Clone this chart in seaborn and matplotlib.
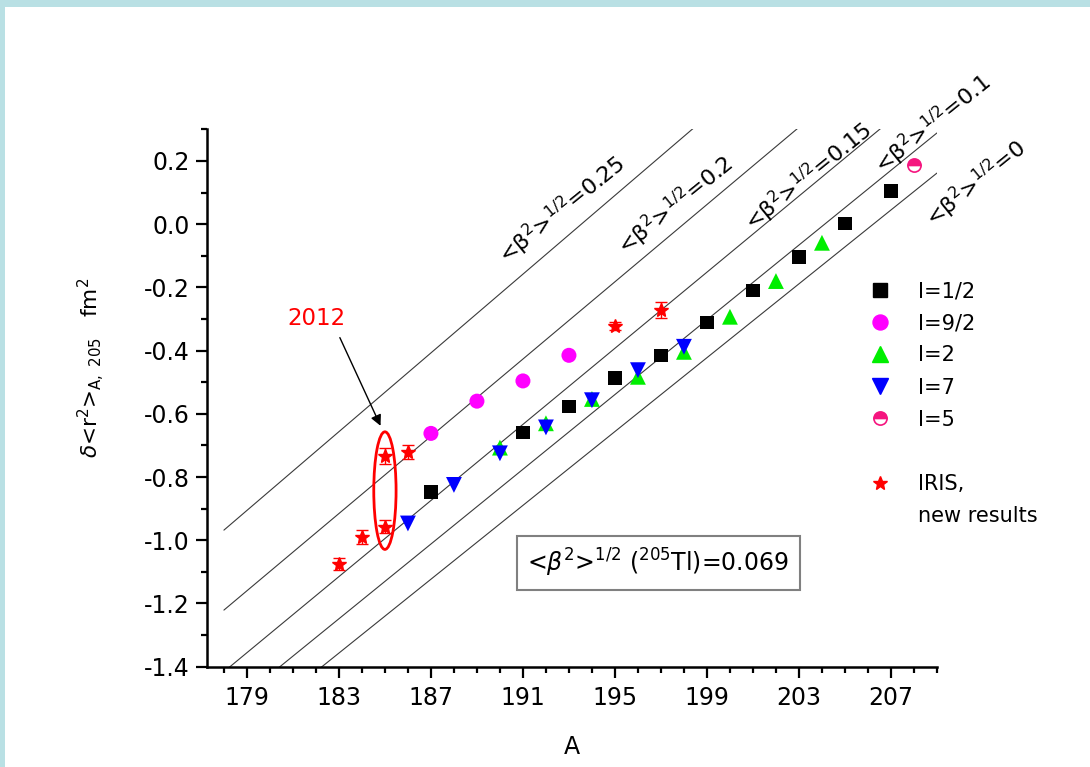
import numpy as np
import pandas as pd
import matplotlib
matplotlib.use('Agg')
import matplotlib.pyplot as plt
from matplotlib.lines import Line2D
from matplotlib.patches import Ellipse, Rectangle
from matplotlib.ticker import MultipleLocator, FixedLocator
import seaborn as sns

# ---------------- data ----------------
A_half = [187, 191, 193, 195, 197, 199, 201, 203, 205, 207]
d_half = [-0.847, -0.660, -0.576, -0.487, -0.415, -0.312, -0.209, -0.104, 0.002, 0.105]

A_92 = [187, 189, 191, 193]
d_92 = [-0.662, -0.560, -0.496, -0.415]

A_2 = [190, 192, 194, 196, 198, 200, 202, 204]
d_2 = [-0.707, -0.630, -0.553, -0.483, -0.404, -0.293, -0.180, -0.059]

A_7 = [186, 188, 190, 192, 194, 196, 198]
d_7 = [-0.947, -0.825, -0.725, -0.643, -0.557, -0.462, -0.388]

A_5 = [208]
d_5 = [0.186]

A_iris = [183, 184, 185, 185, 186, 195, 197]
d_iris = [-1.075, -0.989, -0.957, -0.734, -0.720, -0.323, -0.272]
e_iris = [0.018, 0.022, 0.020, 0.025, 0.022, 0.012, 0.025]

beta_labels = ['0.25', '0.2', '0.15', '0.1', '0']
line_A = [178, 209]
line_d_start = [-0.968, -1.221, -1.416, -1.544, -1.649]
line_d_end = [0.963, 0.673, 0.450, 0.2885, 0.1616]
label_A = [192.7, 197.6, 203.4, 208.8, 210.7]
label_d = [0.044, 0.060, 0.150, 0.316, 0.129]

x_ticks = [179, 183, 187, 191, 195, 199, 203, 207]
y_ticks = [-1.4, -1.2, -1.0, -0.8, -0.6, -0.4, -0.2, 0.0, 0.2]

# ---------------- style ----------------
sns.set_style('ticks')
plt.rcParams['font.family'] = ['DejaVu Sans']
plt.rcParams['mathtext.fontset'] = 'dejavusans'
plt.rcParams['mathtext.default'] = 'regular'
plt.rcParams['axes.unicode_minus'] = False
for k in ['text.color', 'axes.labelcolor', 'xtick.color', 'ytick.color']:
    plt.rcParams[k] = 'black'

fig = plt.figure(figsize=(10.9, 7.67), dpi=100)
fig.patch.set_facecolor('#b9e0e4')
fig.patches.append(Rectangle((5 / 1090, 0), 1 - 5 / 1090, 1 - 7 / 767,
                             transform=fig.transFigure, fc='white', ec='none', zorder=-5))
ax = fig.add_axes([0.1896, 0.1308, 0.6700, 0.7006])
ax.patch.set_alpha(0)

# constant-deformation lines
rows = []
for b, ds, de in zip(beta_labels, line_d_start, line_d_end):
    rows.append({'A': line_A[0], 'd': ds, 'beta': b})
    rows.append({'A': line_A[1], 'd': de, 'beta': b})
lines_df = pd.DataFrame(rows)
sns.lineplot(data=lines_df, x='A', y='d', hue='beta', units='beta', estimator=None,
             palette={b: '#3a3a3a' for b in beta_labels}, linewidth=0.8,
             legend=False, ax=ax, zorder=1)

for b, xa, ya in zip(beta_labels, label_A, label_d):
    ax.text(xa, ya, '<β$^2$>$^{1/2}$=' + b, rotation=39, rotation_mode='anchor',
            ha='center', va='center', fontsize=16, clip_on=False)

# data points
sns.scatterplot(x=A_half, y=d_half, marker='s', s=92, color='black', edgecolor='none', ax=ax, zorder=3)
sns.scatterplot(x=A_92, y=d_92, marker='o', s=117, color='#ff00ff', edgecolor='none', ax=ax, zorder=3)
sns.scatterplot(x=A_2, y=d_2, marker='^', s=130, color='#00ee00', edgecolor='none', ax=ax, zorder=3)
sns.scatterplot(x=A_7, y=d_7, marker='v', s=130, color='#0000ff', edgecolor='none', ax=ax, zorder=4)
ax.plot(A_5, d_5, ls='none', marker='o', ms=9.5, fillstyle='top', mfc='#f5157f',
        mfcalt='white', mec='#f5157f', mew=1.2, zorder=4)
ax.errorbar(A_iris, d_iris, yerr=e_iris, fmt='*', ms=10, color='red', ecolor='red',
            elinewidth=1.0, capsize=4, capthick=1.0, zorder=5)

# 2012 annotation
ax.add_patch(Ellipse((185.0, -0.843), 0.97, 0.372, fc='none', ec='red', lw=2, zorder=6))
ax.annotate('', xy=(184.86, -0.646), xytext=(182.99, -0.351),
            arrowprops=dict(arrowstyle='-|>', color='black', lw=1, mutation_scale=16))
ax.text(182.03, -0.30, '2012', color='red', fontsize=16.5, ha='center', va='center')

# info box
ax.text(196.89, -1.072, r'<$\mathit{\beta}^2$>$^{1/2}$ ($^{205}$Tl)=0.069', fontsize=17,
        ha='center', va='center',
        bbox=dict(boxstyle='square,pad=0.45', fc='white', ec='#808080', lw=1.5), zorder=6)

# axes
ax.set_xlim(177.25, 209.0)
ax.set_ylim(-1.4, 0.3)
ax.xaxis.set_major_locator(FixedLocator(x_ticks))
ax.xaxis.set_minor_locator(MultipleLocator(1))
ax.yaxis.set_major_locator(FixedLocator(y_ticks))
ax.yaxis.set_minor_locator(MultipleLocator(0.1))
ax.set_xticklabels([str(t) for t in x_ticks])
ax.set_yticklabels(['%.1f' % t for t in y_ticks])
for s in ['top', 'right']:
    ax.spines[s].set_visible(False)
for s in ['left', 'bottom']:
    ax.spines[s].set_linewidth(1.8)
    ax.spines[s].set_color('black')
ax.tick_params(which='major', direction='out', length=8, width=1.6, labelsize=17, pad=4, colors='black')
ax.tick_params(which='minor', direction='out', length=4, width=1.6, colors='black')
ax.tick_params(axis='x', which='major', pad=6)

ax.set_xlabel('A', fontsize=17, labelpad=18)
ax.set_ylabel(r'$\mathit{\delta}$<r$^2$>$_{A,\ 205}$   fm$^2$', fontsize=15.5)
ax.yaxis.set_label_coords(-0.137, 0.556)

# legend
handles = [
    Line2D([], [], ls='none', marker='s', ms=9.6, color='black'),
    Line2D([], [], ls='none', marker='o', ms=10.8, color='#ff00ff'),
    Line2D([], [], ls='none', marker='^', ms=11.5, color='#00ee00'),
    Line2D([], [], ls='none', marker='v', ms=11.5, color='#0000ff'),
    Line2D([], [], ls='none', marker='o', ms=9.5, fillstyle='top', mfc='#f5157f',
           mfcalt='white', mec='#f5157f', mew=1.2),
    Line2D([], [], ls='none'),
    Line2D([], [], ls='none', marker='*', ms=10, color='red'),
    Line2D([], [], ls='none'),
]
labels = ['I=1/2', 'I=9/2', 'I=2', 'I=7', 'I=5', ' ', 'IRIS,', 'new results']
leg = ax.legend(handles, labels, loc='upper left', bbox_to_anchor=(0.868, 0.752), frameon=False,
                fontsize=15, handlelength=2.0, handletextpad=0.8, labelspacing=0.58, borderpad=0.4)
for t in leg.get_texts():
    t.set_color('black')

fig.savefig('out.png', dpi=100, facecolor=fig.get_facecolor())
